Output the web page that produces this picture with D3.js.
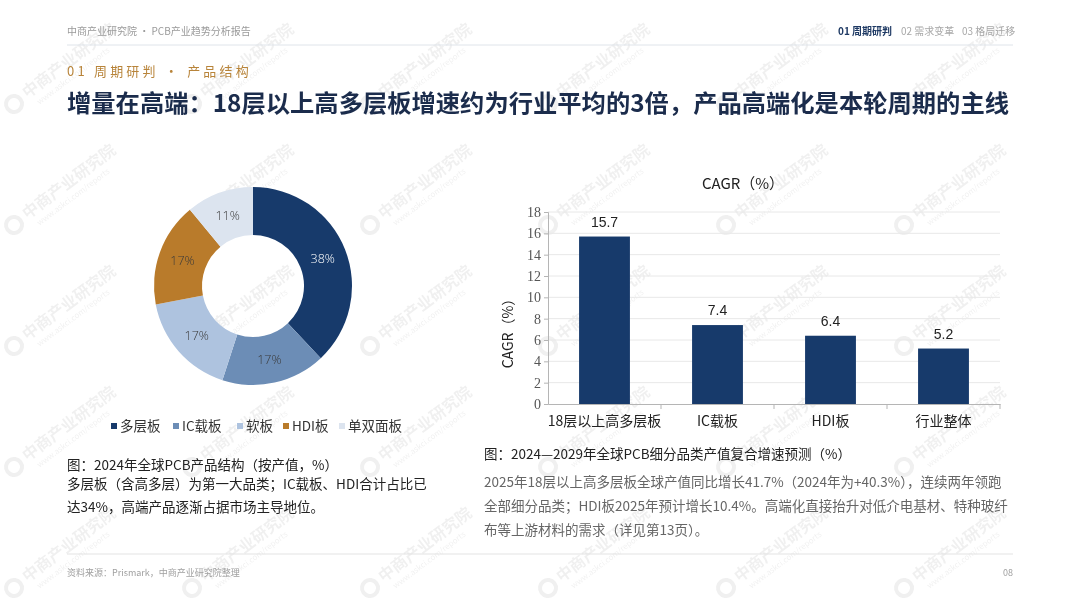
<!DOCTYPE html>
<html>
<head>
<meta charset="utf-8">
<script src="https://cdn.jsdelivr.net/npm/d3@7"></script>
<style>
  body { margin: 0; background: #fff; }
  svg { display: block; font-family: "Noto Sans CJK SC", "Noto Sans", sans-serif; }
</style>
</head>
<body>
<svg id="page" width="1080" height="608"></svg>
<script>
// donut: 2024 global PCB product structure
const shareNames = ["多层板", "IC载板", "软板", "HDI板", "单双面板"];
const shareValues = [38, 17, 17, 17, 11];
const shareColors = ["#173a6b", "#6c8db6", "#aec3df", "#b97b2b", "#dce4ef"];

// bars: 2024-2029 CAGR
const cagrNames = ["18层以上高多层板", "IC载板", "HDI板", "行业整体"];
const cagrValues = [15.7, 7.4, 6.4, 5.2];
const cagrTicks = [0, 2, 4, 6, 8, 10, 12, 14, 16, 18];

const navItems = ["01 周期研判", "02 需求变革", "03 格局迁移"];
const leftNote = ["多层板（含高多层）为第一大品类；IC载板、HDI合计占比已", "达34%，高端产品逐渐占据市场主导地位。"];
const rightNote = [
  "2025年18层以上高多层板全球产值同比增长41.7%（2024年为+40.3%），连续两年领跑",
  "全部细分品类；HDI板2025年预计增长10.4%。高端化直接抬升对低介电基材、特种玻纤",
  "布等上游材料的需求（详见第13页）。"
];

const svg = d3.select("#page");

// ---- watermark (drawn first, very faint) ----
const wmCols = d3.range(6), wmRows = d3.range(5);
const wm = svg.append("g").attr("pointer-events", "none").attr("opacity", 0.06);
wmRows.forEach(r => {
  wmCols.forEach(c => {
    const g = wm.append("g")
      .attr("transform", `translate(${14 + c * 178},${104 + r * 121}) rotate(-37)`);
    g.append("circle").attr("r", 8).attr("fill", "none").attr("stroke", "#000").attr("stroke-width", 4);
    g.append("text").attr("x", 14).attr("y", 4).attr("font-size", 16).attr("font-weight", "bold")
      .attr("fill", "#000").text("中商产业研究院");
    g.append("text").attr("x", 20).attr("y", 16).attr("font-size", 8)
      .attr("fill", "#000").text("www.askci.com/reports");
  });
});

// ---- header ----
svg.append("text").attr("x", 67).attr("y", 35)
  .attr("font-size", 10).attr("fill", "#9a9a9a")
  .text("中商产业研究院 · PCB产业趋势分析报告");

const navX = [838, 901, 962];
navItems.forEach((t, i) => {
  svg.append("text").attr("x", navX[i]).attr("y", 35)
    .attr("font-size", 10)
    .attr("font-weight", i === 0 ? "bold" : "normal")
    .attr("fill", i === 0 ? "#1f3a64" : "#a8a8a8")
    .text(t);
});

svg.append("line").attr("x1", 67).attr("x2", 1013).attr("y1", 45).attr("y2", 45)
  .attr("stroke", "#dfe4ea").attr("stroke-width", 1);

svg.append("text").attr("x", 67).attr("y", 76)
  .attr("font-size", 13).attr("letter-spacing", 3.2).attr("fill", "#b8843a")
  .text("01 周期研判 · 产品结构");

svg.append("text").attr("x", 67).attr("y", 112)
  .attr("font-size", 24.3).attr("font-weight", "bold").attr("fill", "#1b2c4c")
  .text("增量在高端：18层以上高多层板增速约为行业平均的3倍，产品高端化是本轮周期的主线");

// ---- donut ----
const cx = 253, cy = 286, rOuter = 99, rInner = 51;
const pie = d3.pie().sort(null).value(d => d);
const arc = d3.arc().innerRadius(rInner).outerRadius(rOuter);
const labelArc = d3.arc().innerRadius(75).outerRadius(75);

const donut = svg.append("g").attr("transform", `translate(${cx},${cy})`);
const arcs = pie(shareValues);
donut.selectAll("path").data(arcs).enter().append("path")
  .attr("d", arc)
  .attr("fill", (d, i) => shareColors[i]);

donut.selectAll("text.pct").data(arcs).enter().append("text")
  .attr("class", "pct")
  .attr("transform", d => `translate(${labelArc.centroid(d)})`)
  .attr("text-anchor", "middle").attr("dy", "0.35em")
  .attr("font-family", "'Open Sans', sans-serif").attr("font-weight", 300)
  .attr("font-size", 12.5)
  .attr("fill", (d, i) => i === 0 ? "#ffffff" : "#3a3a3a")
  .text(d => d.data + "%");

// legend
const legX = [111, 173, 237, 283, 339];
const legend = svg.append("g");
shareNames.forEach((n, i) => {
  legend.append("rect").attr("x", legX[i]).attr("y", 423).attr("width", 6).attr("height", 6)
    .attr("fill", shareColors[i]);
  legend.append("text").attr("x", legX[i] + 9).attr("y", 431)
    .attr("font-size", 13.5).attr("fill", "#333")
    .text(n);
});

svg.append("text").attr("x", 67).attr("y", 470)
  .attr("font-size", 13.5).attr("fill", "#222")
  .text("图：2024年全球PCB产品结构（按产值，%）");
leftNote.forEach((t, i) => {
  svg.append("text").attr("x", 67).attr("y", 489 + i * 23)
    .attr("font-size", 13.5).attr("fill", "#222").text(t);
});

// ---- bar chart ----
const x = d3.scaleBand().domain(cagrNames).range([548, 1000]).paddingInner(0.55).paddingOuter(0.275);
const y = d3.scaleLinear().domain([0, 18]).range([404, 212]);

const chart = svg.append("g");

chart.selectAll("line.grid").data(cagrTicks.slice(1)).enter().append("line")
  .attr("class", "grid")
  .attr("x1", 548).attr("x2", 1000)
  .attr("y1", d => y(d)).attr("y2", d => y(d))
  .attr("stroke", "#e8e8e8");

const yAxis = chart.append("g").attr("transform", "translate(548,0)")
  .call(d3.axisLeft(y).tickValues(cagrTicks).tickSize(4).tickPadding(3));
yAxis.attr("font-family", "'Liberation Serif', serif");
yAxis.select(".domain").attr("stroke", "#b5b5b5");
yAxis.selectAll(".tick line").attr("stroke", "#b5b5b5");
yAxis.selectAll(".tick text")
  .attr("font-family", "'Liberation Serif', serif").attr("font-size", 14).attr("fill", "#555");

const xAxis = chart.append("g").attr("transform", "translate(0,404)")
  .call(d3.axisBottom(x).tickSize(0).tickPadding(12));
xAxis.attr("font-family", "'Noto Sans CJK SC', sans-serif");
xAxis.select(".domain").attr("stroke", "#b5b5b5");
xAxis.selectAll(".tick text").attr("font-size", 14).attr("fill", "#222");

// category boundary ticks
const boundaryX = cagrNames.map((n, i) => i === 0 ? 548 : x(n) - x.step() * x.paddingInner() / 2).concat([1000]);
chart.selectAll("line.btick").data(boundaryX.slice(1)).enter().append("line")
  .attr("class", "btick")
  .attr("x1", d => d).attr("x2", d => d)
  .attr("y1", 404).attr("y2", 409)
  .attr("stroke", "#b5b5b5");

chart.selectAll("rect.bar").data(cagrValues).enter().append("rect")
  .attr("class", "bar")
  .attr("x", (d, i) => x(cagrNames[i]))
  .attr("y", d => y(d))
  .attr("width", x.bandwidth())
  .attr("height", d => y(0) - y(d))
  .attr("fill", "#173a6b");

chart.selectAll("text.val").data(cagrValues).enter().append("text")
  .attr("class", "val")
  .attr("x", (d, i) => x(cagrNames[i]) + x.bandwidth() / 2)
  .attr("y", d => y(d) - 10)
  .attr("text-anchor", "middle")
  .attr("font-family", "'Liberation Sans', Arial, sans-serif")
  .attr("font-size", 14).attr("fill", "#222")
  .text(d => d.toFixed(1));

chart.append("text").attr("x", 743).attr("y", 189).attr("text-anchor", "middle")
  .attr("font-size", 15).attr("fill", "#222").text("CAGR（%）");

chart.append("text")
  .attr("transform", "translate(513,330) rotate(-90)")
  .attr("text-anchor", "middle").attr("font-size", 14).attr("fill", "#222")
  .text("CAGR（%）");

svg.append("text").attr("x", 484).attr("y", 459)
  .attr("font-size", 13.5).attr("fill", "#222")
  .text("图：2024—2029年全球PCB细分品类产值复合增速预测（%）");
rightNote.forEach((t, i) => {
  svg.append("text").attr("x", 484).attr("y", 487 + i * 24)
    .attr("font-size", 13.5).attr("fill", "#666").text(t);
});

// ---- footer ----
svg.append("line").attr("x1", 67).attr("x2", 1013).attr("y1", 554).attr("y2", 554)
  .attr("stroke", "#e3e3e3");
svg.append("text").attr("x", 67).attr("y", 576)
  .attr("font-size", 9).attr("fill", "#a0a0a0")
  .text("资料来源：Prismark，中商产业研究院整理");
svg.append("text").attr("x", 1013).attr("y", 576).attr("text-anchor", "end")
  .attr("font-size", 9).attr("fill", "#a0a0a0").text("08");
</script>
</body>
</html>
